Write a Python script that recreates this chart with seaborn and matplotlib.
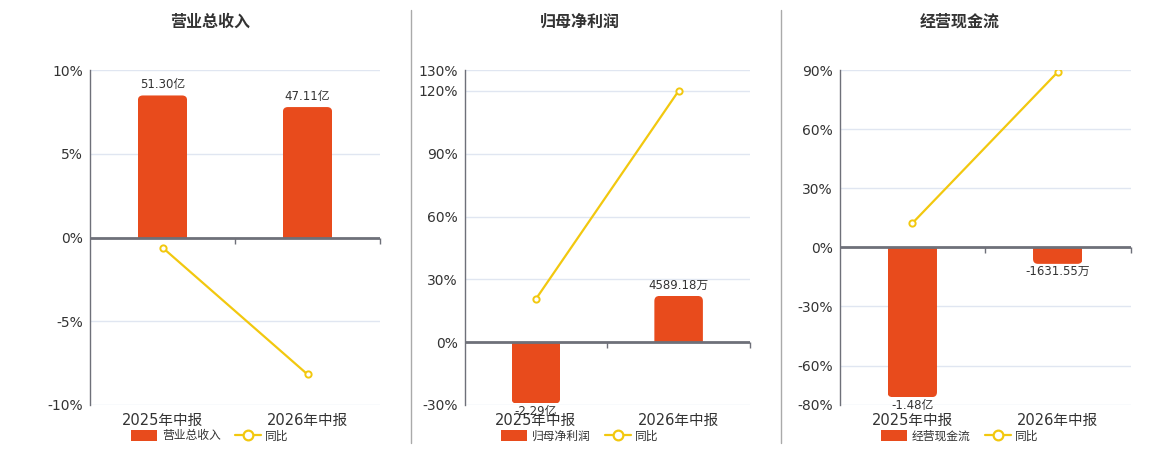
import numpy as np
import pandas as pd
import matplotlib
matplotlib.use("Agg")
import matplotlib.pyplot as plt
import matplotlib.transforms as mtrans
from matplotlib.patches import FancyBboxPatch, Rectangle
from matplotlib.lines import Line2D
from matplotlib.ticker import FuncFormatter
import seaborn as sns

# ---------------- data ----------------
periods = ["2025年中报", "2026年中报"]
titles = ["营业总收入", "归母净利润", "经营现金流"]
yoy_name = "同比"

revenue = [51.30, 47.11]              # 亿
revenue_labels = ["51.30亿", "47.11亿"]
revenue_yoy = [-0.6, -8.17]           # %

profit = [-2.29, 0.458918]            # 亿
profit_labels = ["-2.29亿", "4589.18万"]
profit_yoy = [20.6, 120.04]

cashflow = [-1.48, -0.163155]         # 亿
cashflow_labels = ["-1.48亿", "-1631.55万"]
cashflow_yoy = [12.2, 88.97]

pct_ticks = [[-10, -5, 0, 5, 10],
             [-30, 0, 30, 60, 90, 120, 130],
             [-80, -60, -30, 0, 30, 60, 90]]

# ---------------- style ----------------
BAR = "#E84B1C"
LINE = "#F2C80F"
AXIS = "#6E7079"
GRID = "#E0E6F1"
TXT = "#333333"

sns.set_theme(style="white")
plt.rcParams["font.family"] = ["DejaVu Sans", "Noto Sans CJK SC"]
plt.rcParams["axes.unicode_minus"] = False

W, H = 1160, 450
fig = plt.figure(figsize=(W / 100, H / 100), dpi=100)
fig.patch.set_facecolor("white")

rects = [(90, 380), (464.5, 750), (839.5, 1130.5)]
title_x = [210, 580, 960]
top_px, bot_px = 70, 405
bar_fill = [0.848, 0.976, 0.95]
bar_scale = ["linear", "symlog", "linear"]

panels = [(revenue, revenue_labels, revenue_yoy),
          (profit, profit_labels, profit_yoy),
          (cashflow, cashflow_labels, cashflow_yoy)]

for i, ((vals, labels, yoy), title, ticks) in enumerate(zip(panels, titles, pct_ticks)):
    l, r = rects[i]
    rect = [l / W, 1 - bot_px / H, (r - l) / W, (bot_px - top_px) / H]
    axb = fig.add_axes(rect, label=f"bars{i}")
    ax = fig.add_axes(rect, label=f"pct{i}")
    axb.set_zorder(1)
    ax.set_zorder(2)
    ax.patch.set_visible(False)

    lo, hi = min(ticks), max(ticks)
    ax.set_ylim(lo, hi)
    ax.set_xlim(-0.5, len(periods) - 0.5)

    # ---- bars on a hidden value axis, zero aligned with 0% ----
    if bar_scale[i] == "symlog":
        axb.set_yscale("symlog", linthresh=0.043)
    df = pd.DataFrame({"period": periods, "value": vals})
    sns.barplot(data=df, x="period", y="value", order=periods, color=BAR,
                width=0.34, saturation=1, ax=axb, zorder=3)
    tr = axb.yaxis.get_transform()
    z = (0 - lo) / (hi - lo)
    big = max(vals, key=abs)
    tbig = float(tr.transform(np.array([big]))[0])
    if big > 0:
        t_top = tbig / bar_fill[i]
        t_bot = t_top - t_top / (1 - z)
    else:
        t_bot = tbig / bar_fill[i]
        t_top = t_bot + (-t_bot) / z
    inv = tr.inverted()
    ylo = float(inv.transform(np.array([t_bot]))[0])
    yhi = float(inv.transform(np.array([t_top]))[0])
    axb.set_ylim(ylo, yhi)
    axb.set_xlim(-0.5, len(periods) - 0.5)
    axb.axis("off")
    axb.patch.set_visible(True)
    axb.patch.set_facecolor("white")

    # gridlines behind bars, positioned on the percentage scale
    gtr = mtrans.blended_transform_factory(axb.transAxes, ax.transData)
    for t in ticks:
        if t == 0:
            continue
        axb.add_line(Line2D([0, 1], [t, t], transform=gtr, color=GRID, lw=1, zorder=1))

    # rounded far-end corners
    rad = 5
    y_zero = float(axb.transData.transform((0, 0))[1])
    for p in list(axb.patches):
        bb = p.get_window_extent()
        x0, x1, y0, y1 = bb.x0, bb.x1, bb.y0, bb.y1
        if abs(y0 - y_zero) < abs(y1 - y_zero):
            y0 -= rad
        else:
            y1 += rad
        fb = FancyBboxPatch((x0, y0), x1 - x0, y1 - y0,
                            boxstyle=f"round,pad=0,rounding_size={rad}",
                            transform=mtrans.IdentityTransform(),
                            facecolor=BAR, edgecolor="none", zorder=3)
        axb.add_artist(fb)
        fb.set_clip_path(p.get_path(), p.get_transform())
        p.set_alpha(0)

    # value labels
    for k, (v, lab) in enumerate(zip(vals, labels)):
        if v >= 0:
            axb.annotate(lab, xy=(k, v), xytext=(0, 3), textcoords="offset points",
                         ha="center", va="bottom", fontsize=8.5, color=TXT, zorder=5)
        else:
            axb.annotate(lab, xy=(k, v), xytext=(0, -1), textcoords="offset points",
                         ha="center", va="top", fontsize=8.5, color=TXT, zorder=5)

    # ---- YoY line on percentage axis ----
    sns.lineplot(x=np.arange(len(periods)), y=yoy, ax=ax, color=LINE, lw=1.6,
                 marker="o", markersize=4.5, markerfacecolor="white",
                 markeredgecolor=LINE, markeredgewidth=1.4, zorder=4)

    ax.axhline(0, color=AXIS, lw=2, zorder=3)
    ax.plot(np.arange(len(periods)) + 0.5, np.zeros(len(periods)), ls="none",
            marker=3, markersize=4, color=AXIS, mew=1, zorder=3, clip_on=False)

    ax.set_yticks(ticks)
    ax.yaxis.set_major_formatter(FuncFormatter(lambda v, _: f"{v:.0f}%"))
    ax.set_xticks(np.arange(len(periods)))
    ax.set_xticklabels(periods)
    ax.tick_params(axis="y", length=0, pad=5, labelsize=10, labelcolor=TXT)
    ax.tick_params(axis="x", length=0, pad=6, labelsize=10.5, labelcolor=TXT)
    ax.grid(False)
    for s in ["top", "right", "bottom"]:
        ax.spines[s].set_visible(False)
    ax.spines["left"].set_color(AXIS)
    ax.spines["left"].set_linewidth(1)
    ax.set_xlabel("")
    ax.set_ylabel("")

    cx = title_x[i]
    fig.text(cx / W, 1 - 22 / H, title, ha="center", va="center",
             fontsize=11.5, fontweight="bold", color=TXT)

    handles = [Rectangle((0, 0), 1, 1, facecolor=BAR, edgecolor="none"),
               Line2D([], [], color=LINE, lw=1.6, marker="o", markersize=7,
                      markerfacecolor="white", markeredgecolor=LINE, markeredgewidth=1.6)]
    fig.legend(handles, [title, yoy_name], loc="center", ncol=2,
               bbox_to_anchor=(cx / W, 1 - 436 / H), frameon=False,
               fontsize=8.5, handlelength=2.2, handleheight=1.0,
               handletextpad=0.4, columnspacing=1.2, labelcolor=TXT)

for xd in [410.5, 780.5]:
    fig.add_artist(Line2D([xd / W, xd / W], [1 - 443 / H, 1 - 10 / H],
                          color="#AAAAAA", lw=1, transform=fig.transFigure))

fig.savefig("out.png", dpi=100, facecolor="white")
